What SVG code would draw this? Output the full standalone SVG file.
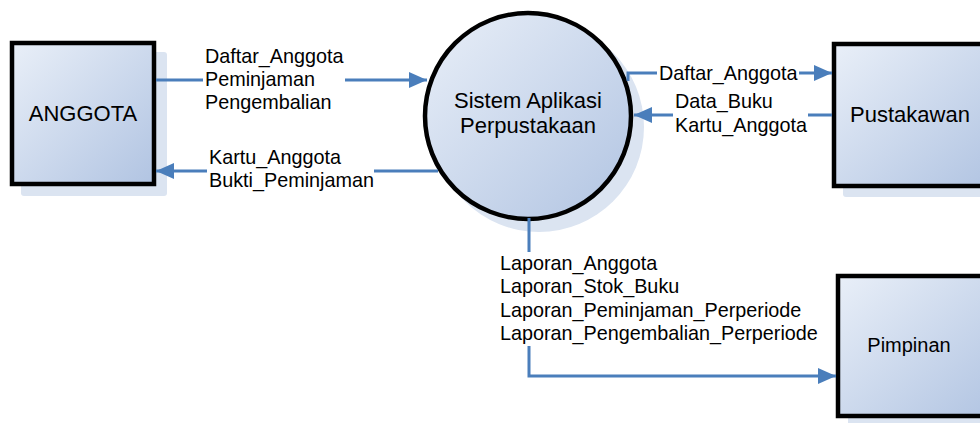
<svg xmlns="http://www.w3.org/2000/svg" width="980" height="423" viewBox="0 0 980 423">
<defs>
<linearGradient id="g" x1="0" y1="0" x2="1" y2="1">
<stop offset="0" stop-color="#e9eff8"/>
<stop offset="1" stop-color="#b1c4e2"/>
</linearGradient>
<marker id="ah" markerWidth="18" markerHeight="16" refX="18" refY="8" orient="auto" markerUnits="userSpaceOnUse">
<path d="M0,0 L18,8 L0,16 Z" fill="#4a7ebb"/>
</marker>
<style>
.box{fill:url(#g);stroke:#000;stroke-width:4.5}
.sh{fill:#dbe4f1}
.t{font-family:"Liberation Sans",Arial,sans-serif;font-size:22px;fill:#000;text-anchor:middle}
.l{font-family:"Liberation Sans",Arial,sans-serif;font-size:19.8px;fill:#000}
.c{fill:none;stroke:#4a7ebb;stroke-width:3}
.bg{fill:#fff}
</style>
</defs>
<rect width="980" height="423" fill="#fff"/>

<g id="anggota">
<rect class="sh" x="21" y="52" width="146" height="144" rx="3"/>
<rect class="box" x="12" y="43" width="142" height="141"/>
<text class="t" x="83" y="121">ANGGOTA</text>
</g>

<g id="sistem">
<circle class="sh" cx="539" cy="127" r="105"/>
<circle class="box" cx="528" cy="116" r="103"/>
<text class="t" x="528" y="108">Sistem Aplikasi</text>
<text class="t" x="528" y="133">Perpustakaan</text>
</g>

<g id="pustakawan">
<rect class="sh" x="843" y="53" width="160" height="144" rx="3"/>
<rect class="box" x="834" y="44" width="160" height="142"/>
<text class="t" x="910" y="122">Pustakawan</text>
</g>

<g id="pimpinan">
<rect class="sh" x="848" y="286" width="160" height="150" rx="3"/>
<rect class="box" x="838" y="276" width="160" height="140"/>
<text class="t" x="909" y="352" style="font-size:20px">Pimpinan</text>
</g>

<g id="connectors">
<path class="c" d="M156,80 L427,80" marker-end="url(#ah)"/>
<path class="c" d="M438,171 L156,171" marker-end="url(#ah)"/>
<path class="c" d="M628,81 L628,73 L832,73" marker-end="url(#ah)"/>
<path class="c" d="M832,115 L634,115" marker-end="url(#ah)"/>
<path class="c" d="M529,218 L529,376 L836,376" marker-end="url(#ah)"/>
</g>

<g id="labels">
<rect class="bg" x="203" y="46" width="142" height="68"/>
<text class="l" x="205" y="63">Daftar_Anggota</text>
<text class="l" x="205" y="86">Peminjaman</text>
<text class="l" x="205" y="109">Pengembalian</text>

<rect class="bg" x="207" y="148" width="167" height="44"/>
<text class="l" x="209" y="164">Kartu_Anggota</text>
<text class="l" x="209" y="187">Bukti_Peminjaman</text>

<rect class="bg" x="657" y="62" width="142" height="22"/>
<text class="l" x="659" y="80">Daftar_Anggota</text>

<rect class="bg" x="673" y="92" width="135" height="44"/>
<text class="l" x="675" y="108">Data_Buku</text>
<text class="l" x="675" y="132">Kartu_Anggota</text>

<rect class="bg" x="498" y="252" width="324" height="94"/>
<text class="l" x="500" y="270">Laporan_Anggota</text>
<text class="l" x="500" y="293">Laporan_Stok_Buku</text>
<text class="l" x="500" y="317">Laporan_Peminjaman_Perperiode</text>
<text class="l" x="500" y="340">Laporan_Pengembalian_Perperiode</text>
</g>
</svg>
